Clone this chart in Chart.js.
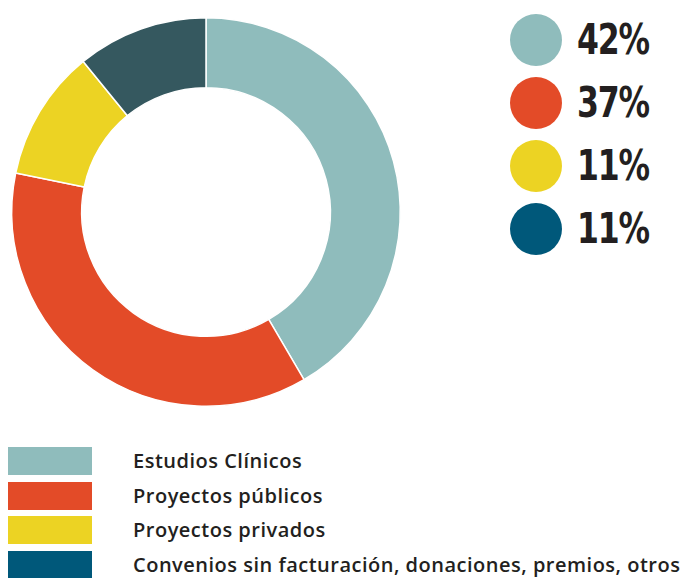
<!DOCTYPE html>
<html>
<head>
<meta charset="utf-8">
<script src="https://cdn.jsdelivr.net/npm/chart.js@4/dist/chart.umd.min.js"></script>
<style>
  html, body { margin: 0; padding: 0; background: #ffffff; }
  body { width: 685px; height: 578px; position: relative; overflow: hidden; }
  #wrap { position: absolute; left: 0; top: 0; width: 412px; height: 424px; }
  #pct { position: absolute; left: 510px; top: 14px; }
  .pitem { position: relative; height: 63px; }
  .dot { position: absolute; left: 0; top: 0; width: 52px; height: 52px; border-radius: 50%; }
  .ptxt { position: absolute; left: 67px; top: 1px; font-family: "DejaVu Sans", sans-serif; font-weight: bold; font-size: 42px; line-height: 50px; color: #231f20; letter-spacing: -1.5px; transform: scaleX(0.75); transform-origin: 0 50%; white-space: nowrap; }
  #legend { position: absolute; left: 8px; top: 447px; }
  .litem { position: relative; height: 34.7px; }
  .box { position: absolute; left: 0; top: 0; width: 84px; height: 28px; }
  .ltxt { position: absolute; left: 125px; top: 0px; font-family: "Open Sans", sans-serif; font-weight: 600; font-size: 20px; line-height: 28px; letter-spacing: 0.5px; color: #231f20; white-space: nowrap; }
</style>
</head>
<body>
<div id="wrap"><canvas id="c" width="412" height="424"></canvas></div>
<div id="pct"></div>
<div id="legend"></div>
<script>
const categories = ["Estudios Clínicos", "Proyectos públicos", "Proyectos privados", "Convenios sin facturación, donaciones, premios, otros"];
const values = [42, 37, 11, 11];
const sliceColors = ["#8fbcbc", "#e34b28", "#ecd323", "#35585f"];
const legendColors = ["#8fbcbc", "#e34b28", "#ecd323", "#00587a"];

const ctx = document.getElementById('c').getContext('2d');
new Chart(ctx, {
  type: 'doughnut',
  data: {
    labels: categories,
    datasets: [{
      data: values,
      backgroundColor: sliceColors,
      borderColor: '#ffffff',
      borderWidth: 1.5
    }]
  },
  options: {
    responsive: false,
    animation: false,
    cutout: '64%',
    rotation: 0,
    layout: { padding: 11 },
    plugins: { legend: { display: false }, tooltip: { enabled: false } }
  }
});

const pct = document.getElementById('pct');
values.forEach((v, i) => {
  const d = document.createElement('div');
  d.className = 'pitem';
  d.innerHTML = '<div class="dot" style="background:' + legendColors[i] + '"></div><div class="ptxt">' + v + '%</div>';
  pct.appendChild(d);
});

const leg = document.getElementById('legend');
categories.forEach((c, i) => {
  const d = document.createElement('div');
  d.className = 'litem';
  d.innerHTML = '<div class="box" style="background:' + legendColors[i] + '"></div><div class="ltxt">' + c + '</div>';
  leg.appendChild(d);
});
</script>
</body>
</html>
